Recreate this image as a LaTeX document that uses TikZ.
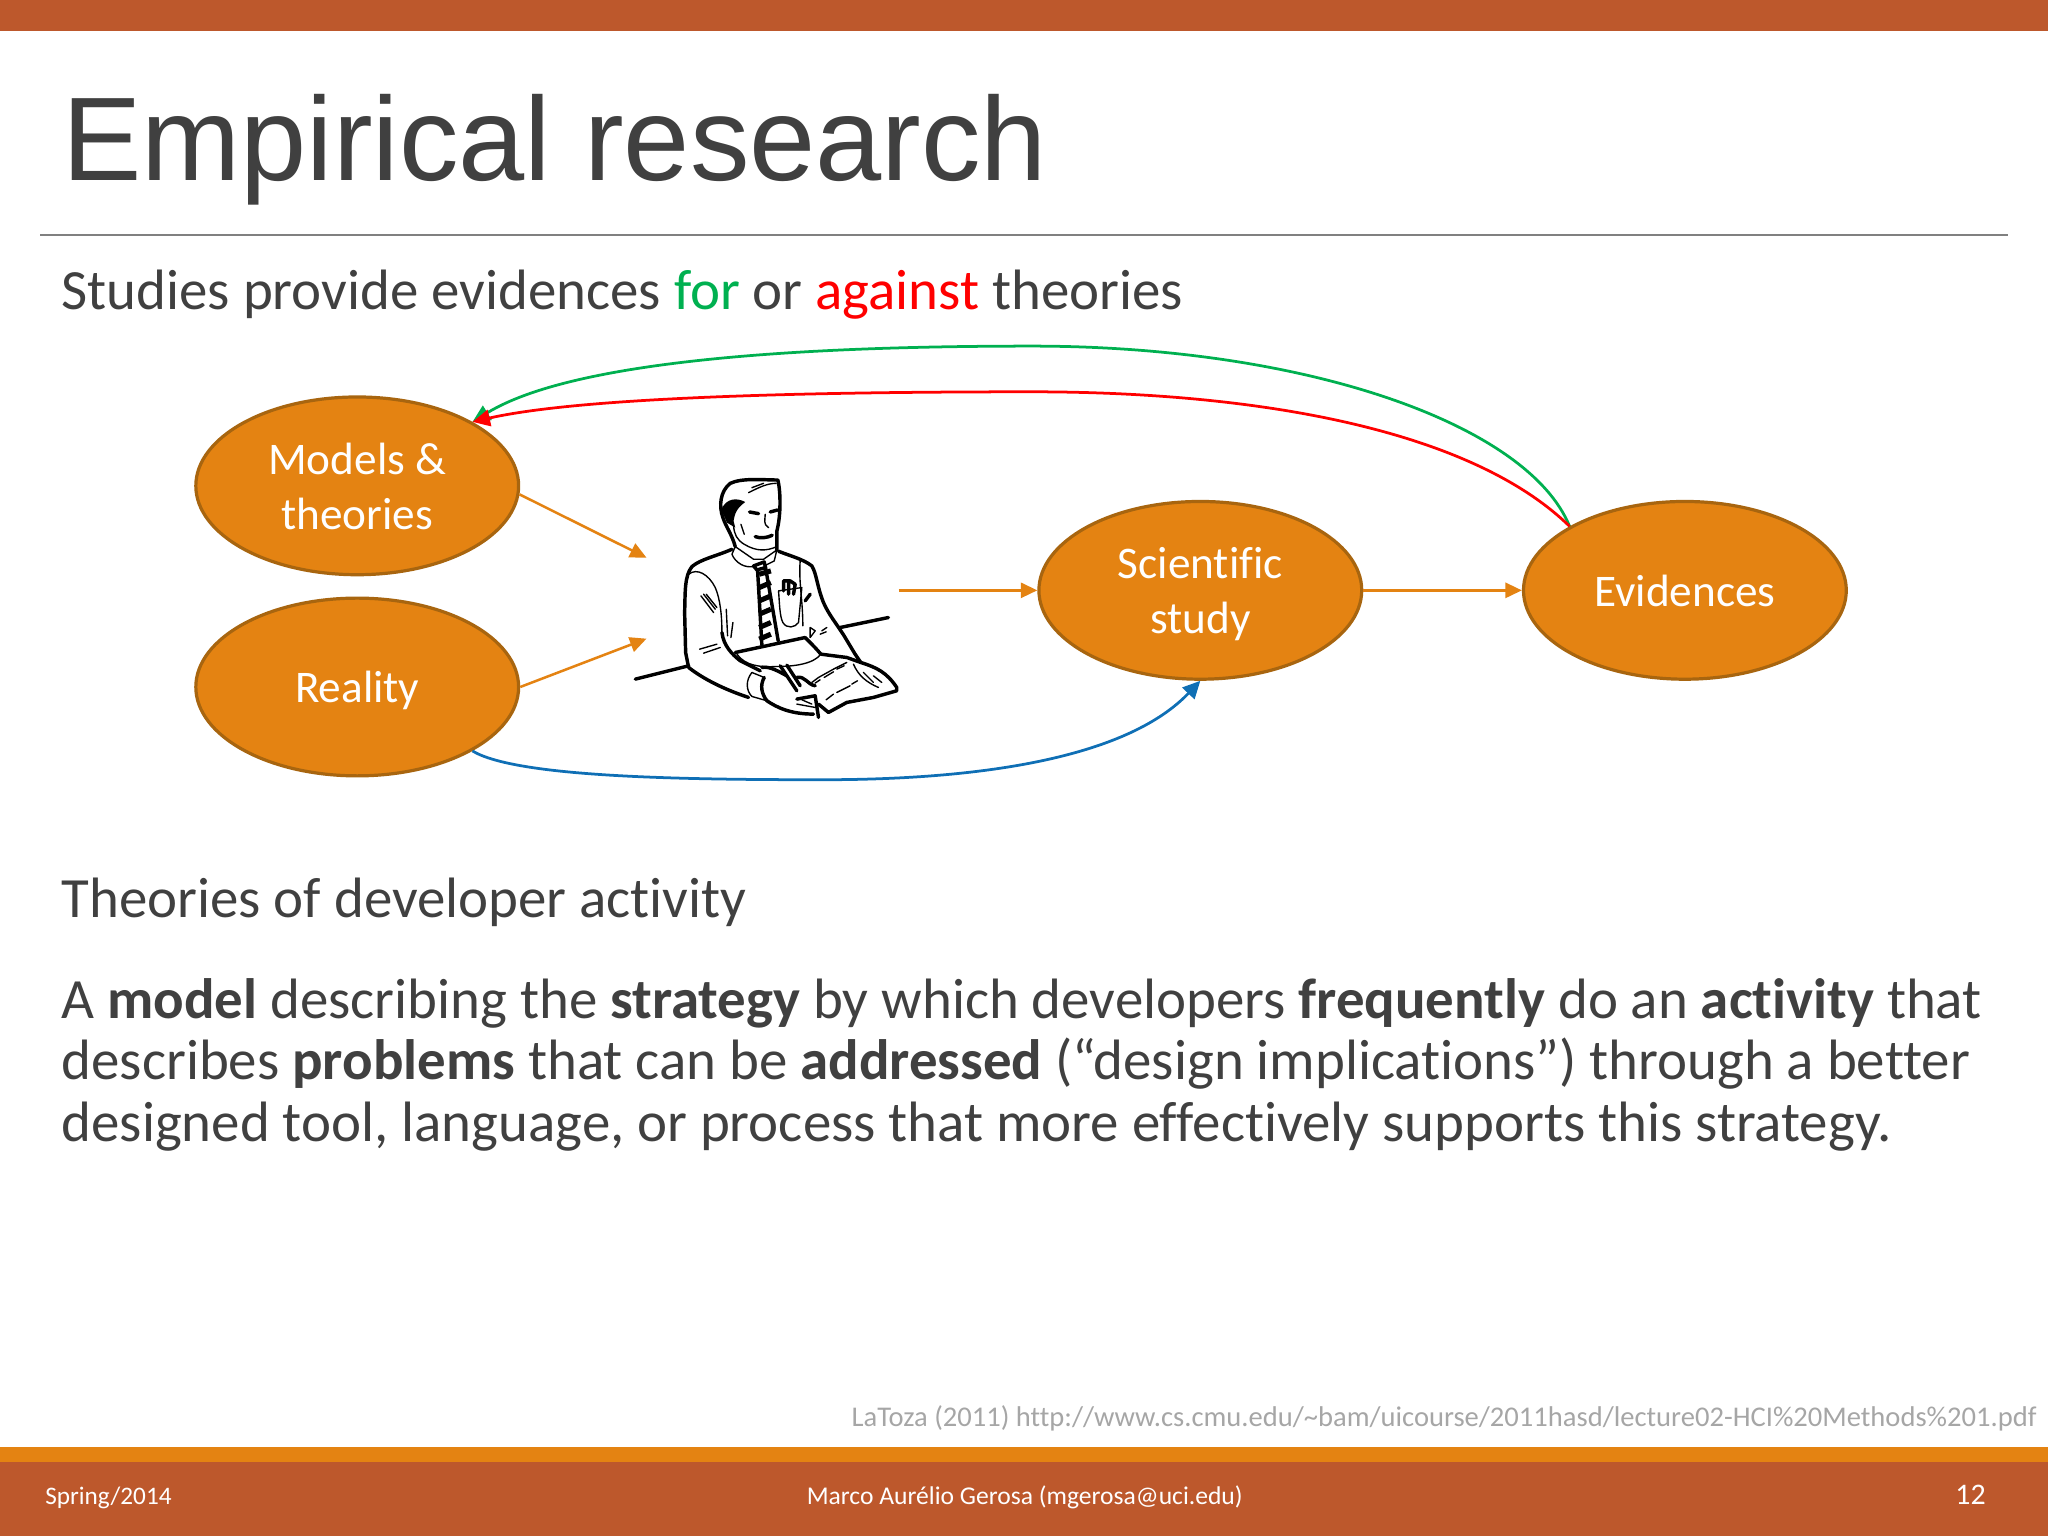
\documentclass[tikz,border=0pt]{standalone}
\usepackage{fontspec}
\setmainfont[Ligatures={NoCommon}]{Carlito}
\newfontfamily\titlefont{Liberation Sans}
\usetikzlibrary{arrows.meta,shapes.geometric}
\definecolor{rust}{HTML}{BD582C}
\definecolor{amber}{HTML}{E48312}
\definecolor{amberdark}{HTML}{A8650F}
\definecolor{slate}{HTML}{404040}
\definecolor{forgreen}{HTML}{00B050}
\definecolor{linkblue}{HTML}{0F6FB5}

\begin{document}
\begin{tikzpicture}[x=0.01cm, y=0.01cm,
  main node/.style={ellipse, draw=amberdark, fill=amber, line width=0.7pt, minimum width=2.47cm, minimum height=1.36cm, inner sep=0pt, align=center, text=white, text depth=0pt, font=\fontsize{9.85}{12}\selectfont},
  body text/.style={anchor=base west, inner sep=0pt, text=slate, font=\fontsize{12.39}{13.4}\selectfont, align=left},
  foot text/.style={anchor=base west, inner sep=0pt, text=white, font=\fontsize{5.49}{7}\selectfont},
  feed/.style={-{Triangle[length=3.6pt,width=3.3pt]}, draw=amber, line width=0.55pt},
  loop line/.style={-{Triangle[length=3.8pt,width=3.6pt]}, line width=0.6pt},
  ink/.style={line width=0.3pt, line join=round, line cap=round},
  heavy ink/.style={line width=0.75pt, line join=round, line cap=round}]

\useasboundingbox (0,0) rectangle (1568,1176);

% bars
\fill[rust] (0,1152) rectangle (1568,1176);
\fill[amber] (0,57) rectangle (1568,68);
\fill[rust] (0,0) rectangle (1568,57);
\draw[gray, line width=0.45pt] (31,996) -- (1537,996);

% texts
\node[anchor=base west, inner sep=0pt, text=slate, font=\titlefont\fontsize{25.9}{30}\selectfont] (title) at (47,1037.5) {Empirical research};
\node[body text] (intro) at (46.5,939) {Studies provide evidences \textcolor{forgreen}{for} or \textcolor{red}{against} theories};
\node[body text] (subhead) at (46.5,473.5) {Theories of developer activity};
\node[body text] (para) at (46.5,302) {A \textbf{model} describing the \textbf{strategy} by which developers \textbf{frequently} do an \textbf{activity} that\\
describes \textbf{problems} that can be \textbf{addressed} (“design implications”) through a better\\
designed tool, language, or process that more effectively supports this strategy.};
\node[anchor=base east, inner sep=0pt, text=black!35, font=\fontsize{6.22}{7}\selectfont] (source) at (1560,83.5) {LaToza (2011) http://www.cs.cmu.edu/\char`\~bam/uicourse/2011hasd/lecture02-HCI\%20Methods\%201.pdf};
\node[foot text] (term) at (34,24) {Spring/2014};
\node[foot text, font=\fontsize{5.57}{7}\selectfont] (who) at (617,24) {Marco Aurélio Gerosa (mgerosa@uci.edu)};
\node[foot text, anchor=base east, font=\fontsize{6.5}{7}\selectfont] (page) at (1521,24) {12};

% ovals
\node[main node] (models) at (273.5,804) {Models \&\\theories};
\node[main node] (reality) at (273.5,650) {Reality};
\node[main node] (study) at (919,724) {Scientific\\study};
\node[main node] (evidences) at (1290,724) {Evidences};

% man at the desk
\begin{scope}[xshift=4.747cm, yshift=8.238cm, x=0.002552cm, y=-0.002552cm]
\draw[heavy ink] (345,262) .. controls (335,225) and (318,205) .. (308,175) .. controls (295,140) and (300,95) .. (330,72) .. controls (365,55) and (430,62) .. (473,62) .. controls (482,100) and (482,170) .. (470,215) -- (470,272);
\fill (303,150) .. controls (320,115) and (350,115) .. (375,128) .. controls (360,140) and (345,150) .. (340,185) -- (345,205) -- (320,190) -- cycle;
\draw[ink] (340,200) .. controls (342,225) and (350,242) .. (372,255) .. controls (410,278) and (440,275) .. (470,262);
\draw[ink] (385,100) .. controls (415,85) and (440,72) .. (468,72);
\draw[ink] (395,85) -- (430,72);
\draw[heavy ink] (388,158) -- (415,163);
\draw[heavy ink] (450,158) -- (472,152);
\draw[ink] (435,165) .. controls (435,180) and (428,195) .. (445,205);
\draw[heavy ink] (405,232) .. controls (420,238) and (440,236) .. (456,228);
\draw[ink] (362,195) -- (372,225);
% collar and shoulders
\draw[ink] (345,262) -- (335,285) .. controls (345,310) and (375,330) .. (405,320);
\draw[ink] (345,262) -- (400,300) -- (430,300) -- (470,272) -- (462,305) -- (432,320);
\draw[heavy ink] (335,270) .. controls (290,290) and (240,300) .. (215,322) .. controls (192,350) and (195,400) .. (193,460) -- (196,580) -- (205,625);
\draw[heavy ink] (475,276) .. controls (510,290) and (550,300) .. (575,320) .. controls (590,345) and (590,380) .. (610,430) .. controls (625,465) and (650,495) .. (672,530) -- (705,585) -- (722,610);
% sleeve and front
\draw[ink] (205,345) .. controls (230,325) and (265,345) .. (285,385) .. controls (300,420) and (305,470) .. (305,520);
\draw[heavy ink] (305,520) .. controls (310,560) and (335,585) .. (360,605) -- (420,635);
\draw[ink] (540,305) .. controls (535,370) and (548,420) .. (548,500);
\draw[ink] (318,450) -- (322,530);
\draw[ink] (338,490) -- (332,535);
\draw[ink] (242,410) -- (280,460) (250,405) -- (285,450) (258,405) -- (290,445);
\draw[ink] (238,570) -- (290,555) (250,582) -- (300,565);
\draw[ink] (570,505) -- (585,515) -- (570,535) -- cycle (605,515) -- (620,505) (600,525) -- (618,518);
% lower arms and cuffs
\draw[heavy ink] (205,625) .. controls (250,660) and (310,690) .. (385,715);
\draw[ink] (395,640) .. controls (375,665) and (378,695) .. (395,712);
\draw[heavy ink] (432,655) .. controls (418,680) and (425,705) .. (440,725);
\draw[ink] (395,640) -- (432,655) (395,712) -- (440,725);
\draw[heavy ink] (440,725) .. controls (470,745) and (510,765) .. (580,765);
\draw[heavy ink] (425,625) .. controls (450,620) and (480,640) .. (500,650);
\draw[heavy ink] (480,620) -- (530,695) (500,618) -- (540,680);
\draw[heavy ink] (530,655) .. controls (555,650) and (560,675) .. (585,680);
\draw[heavy ink] (530,720) -- (585,710) -- (595,775);
% desk lines
\draw[heavy ink] (45,660) -- (205,620);
\draw[heavy ink] (345,580) -- (555,535);
\draw[heavy ink] (660,505) -- (805,475);
% far arm and paper
\draw[ink] (350,585) .. controls (375,620) and (420,625) .. (470,622) .. controls (520,622) and (580,615) .. (602,585);
\draw[heavy ink] (555,535) .. controls (570,550) and (590,570) .. (602,585);
\draw[heavy ink] (602,585) -- (680,595) -- (722,610) .. controls (770,625) and (800,640) .. (830,685) -- (830,695) -- (760,715) -- (680,730) -- (625,760) -- (595,735);
\draw[ink] (700,615) .. controls (715,650) and (740,670) .. (775,685);
\draw[ink] (730,640) -- (760,670) (760,650) -- (785,670);
\draw[ink] (575,670) -- (595,655) -- (640,630) -- (680,610);
\draw[ink] (585,672) -- (600,662) (612,655) -- (640,638) (650,630) -- (672,620);
\draw[ink] (618,722) -- (640,705) (650,700) -- (690,680) (695,675) -- (712,665);
\draw[ink] (530,735) -- (585,745) (545,722) -- (575,735);
% tie
\draw[heavy ink] (400,320) -- (432,308) -- (436,325) -- (410,332) -- cycle;
\draw[heavy ink] (412,332) -- (425,558);
\draw[heavy ink] (436,325) -- (474,545);
\foreach \ya/\yb in {345/335, 385/370, 425/410, 465/450, 505/490, 540/525}
  \draw[line width=1.1pt] (417,\ya) -- (452,\yb);
% pocket
\draw[ink] (475,395) .. controls (478,430) and (478,470) .. (488,490) .. controls (500,510) and (525,505) .. (535,490) -- (545,385) -- cycle;
\draw[heavy ink] (490,395) -- (490,365) -- (510,365) -- (525,375) -- (520,405) (505,365) -- (505,405);
\draw[heavy ink] (555,425) -- (570,405);
\end{scope}

% free arrow ends by the man, and the turning points of the long arcs
\coordinate (man upper) at (495,749);
\coordinate (man lower) at (495,687);
\coordinate (man out) at (688,724);
\coordinate (green top) at (790,911);
\coordinate (red top) at (790,876);
\coordinate (blue low) at (630,579);

\draw[feed] (models.-3) -- (man upper);
\draw[feed] (reality.east) -- (man lower);
\draw[feed] (man out) -- (study);
\draw[feed] (study) -- (evidences);

\draw[loop line, draw=forgreen] (evidences.north west) .. controls (1170,851) and (1000,911) .. (green top) .. controls (620,911) and (440,901) .. (models.north east);
\draw[loop line, draw=red] (evidences.north west) .. controls (1125,848) and (960,876) .. (red top) .. controls (640,876) and (450,873) .. (models.north east);
\draw[loop line, draw=linkblue] (reality.south east) .. controls (395,581) and (520,579) .. (blue low) .. controls (760,579) and (865,598) .. (study.south);

\end{tikzpicture}
\end{document}
